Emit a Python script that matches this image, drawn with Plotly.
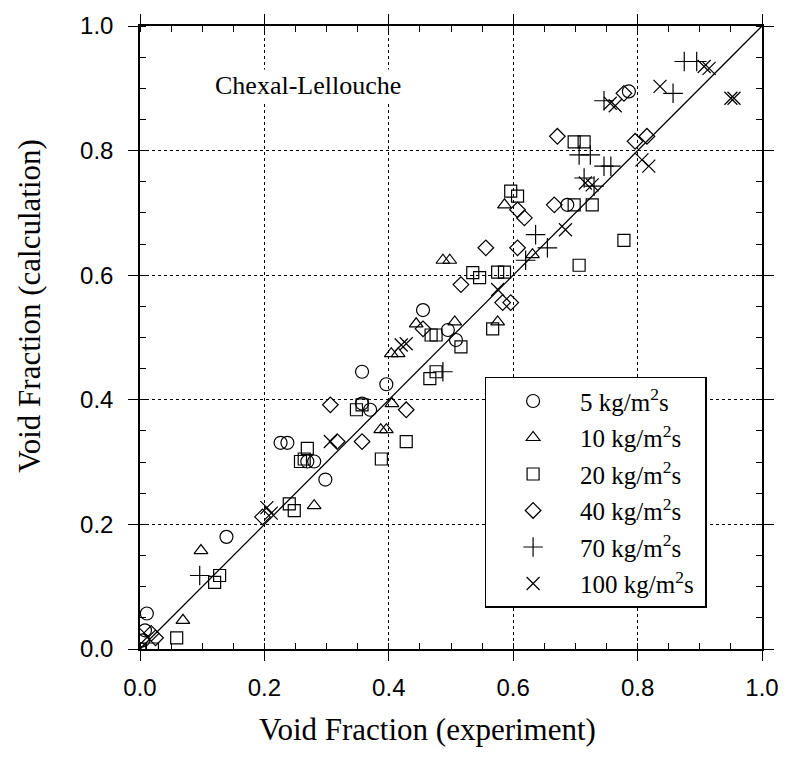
import plotly.graph_objects as go

# ---- data (void fraction: experiment x, calculation y) ----
series_names = ["5 kg/m<sup>2</sup>s", "10 kg/m<sup>2</sup>s", "20 kg/m<sup>2</sup>s",
                "40 kg/m<sup>2</sup>s", "70 kg/m<sup>2</sup>s", "100 kg/m<sup>2</sup>s"]

g5_x = [0.0, 0.005, 0.008, 0.011, 0.139, 0.226, 0.237, 0.269, 0.28, 0.298, 0.357, 0.357,
        0.37, 0.396, 0.455, 0.495, 0.508, 0.687, 0.786]
g5_y = [0.0, 0.014, 0.03, 0.057, 0.18, 0.331, 0.331, 0.301, 0.301, 0.272, 0.445, 0.394,
        0.384, 0.425, 0.544, 0.512, 0.496, 0.713, 0.895]

g10_x = [0.069, 0.098, 0.28, 0.387, 0.396, 0.405, 0.404, 0.415, 0.444, 0.506, 0.487,
         0.498, 0.575, 0.586, 0.631]
g10_y = [0.046, 0.158, 0.23, 0.352, 0.352, 0.394, 0.474, 0.474, 0.522, 0.525, 0.624,
         0.624, 0.525, 0.713, 0.633]

g20_x = [0.0, 0.02, 0.059, 0.128, 0.12, 0.24, 0.248, 0.269, 0.258, 0.264, 0.348, 0.357,
         0.388, 0.428, 0.466, 0.476, 0.468, 0.476, 0.516, 0.567, 0.535, 0.546, 0.575,
         0.586, 0.596, 0.607, 0.698, 0.727, 0.706, 0.778, 0.698, 0.714]
g20_y = [0.0, 0.0, 0.018, 0.118, 0.107, 0.233, 0.222, 0.322, 0.301, 0.305, 0.384, 0.392,
         0.305, 0.333, 0.434, 0.445, 0.504, 0.504, 0.485, 0.514, 0.604, 0.596, 0.605,
         0.605, 0.735, 0.727, 0.713, 0.713, 0.616, 0.656, 0.814, 0.814]

g40_x = [0.0, 0.018, 0.025, 0.197, 0.306, 0.317, 0.357, 0.428, 0.455, 0.516, 0.556,
         0.583, 0.596, 0.607, 0.607, 0.618, 0.666, 0.671, 0.778, 0.796, 0.815]
g40_y = [0.02, 0.025, 0.018, 0.212, 0.392, 0.333, 0.333, 0.384, 0.514, 0.585, 0.644,
         0.556, 0.556, 0.644, 0.705, 0.692, 0.713, 0.823, 0.892, 0.815, 0.823]

g70_x = [0.096, 0.487, 0.62, 0.636, 0.655, 0.706, 0.724, 0.714, 0.73, 0.746, 0.757,
         0.746, 0.875, 0.895, 0.857]
g70_y = [0.118, 0.445, 0.624, 0.665, 0.644, 0.793, 0.793, 0.756, 0.743, 0.775, 0.775,
         0.88, 0.943, 0.943, 0.892]

g100_x = [0.0, 0.204, 0.211, 0.306, 0.42, 0.428, 0.575, 0.684, 0.716, 0.727, 0.756,
          0.764, 0.807, 0.818, 0.836, 0.907, 0.915, 0.95, 0.955]
g100_y = [0.0, 0.227, 0.218, 0.333, 0.488, 0.49, 0.577, 0.673, 0.748, 0.745, 0.876,
          0.872, 0.785, 0.775, 0.903, 0.935, 0.932, 0.884, 0.884]

diag = [0.0, 1.0]
tick_vals = [0.0, 0.2, 0.4, 0.6, 0.8, 1.0]
tick_text = ["0.0", "0.2", "0.4", "0.6", "0.8", "1.0"]

xs = [g5_x, g10_x, g20_x, g40_x, g70_x, g100_x]
ys = [g5_y, g10_y, g20_y, g40_y, g70_y, g100_y]
symbols = ["circle-open", "triangle-up-open", "square-open", "diamond-open",
           "cross-thin-open", "x-thin-open"]
sizes = [13, 12, 12, 12, 14, 13]

SERIF = "Liberation Serif"
SANS = "Liberation Sans"

fig = go.Figure()
fig.add_trace(go.Scatter(x=diag, y=diag, mode="lines", line=dict(color="black", width=1.3),
                         showlegend=False, hoverinfo="skip"))
NB = "\u00a0"
for i in range(6):
    fig.add_trace(go.Scatter(
        x=xs[i], y=ys[i], mode="markers", name=series_names[i] + NB,
        legendgroup=str(i),
        marker=dict(symbol=symbols[i], size=sizes[i], color="black",
                    line=dict(color="black", width=1.2)),
    ))

axis_common = dict(
    range=[0, 1], tickvals=tick_vals, ticktext=tick_text,
    showline=True, linecolor="black", linewidth=1.5, mirror="ticks",
    ticks="outside", ticklen=10, tickwidth=1.2, tickcolor="black",
    showgrid=True, gridcolor="black", gridwidth=1, griddash="dot",
    zeroline=False,
    tickfont=dict(family=SANS, size=24, color="black"),
    minor=dict(dtick=0.05, tick0=0, ticks="inside", ticklen=6, tickwidth=1,
               tickcolor="black", showgrid=False),
    fixedrange=True,
)

fig.update_layout(
    width=791, height=758,
    margin=dict(l=140, r=25, t=22, b=109),
    paper_bgcolor="white", plot_bgcolor="white",
    xaxis=dict(**axis_common, ticklabelstandoff=6),
    yaxis=dict(**axis_common, ticklabelstandoff=10),
    legend=dict(x=0.554, y=0.437, xanchor="left", yanchor="top",
                bgcolor="white", bordercolor="black", borderwidth=1.5,
                font=dict(family=SERIF, size=25, color="black"),
                tracegroupgap=1, itemwidth=84),
    annotations=[
        dict(text="Chexal-Lellouche", x=0.117, y=0.905, xref="x", yref="y",
             xanchor="left", yanchor="middle", showarrow=False, bgcolor="white",
             font=dict(family=SERIF, size=26, color="black")),
        dict(text="Void Fraction (experiment)", x=0.463, y=-0.13, xref="paper", yref="paper",
             xanchor="center", yanchor="middle", showarrow=False,
             font=dict(family=SERIF, size=31, color="black")),
        dict(text="Void Fraction (calculation)", x=-0.178, y=0.55, xref="paper", yref="paper",
             xanchor="center", yanchor="middle", showarrow=False, textangle=-90,
             font=dict(family=SERIF, size=31, color="black")),
    ],
)

fig.write_html("out.html")
